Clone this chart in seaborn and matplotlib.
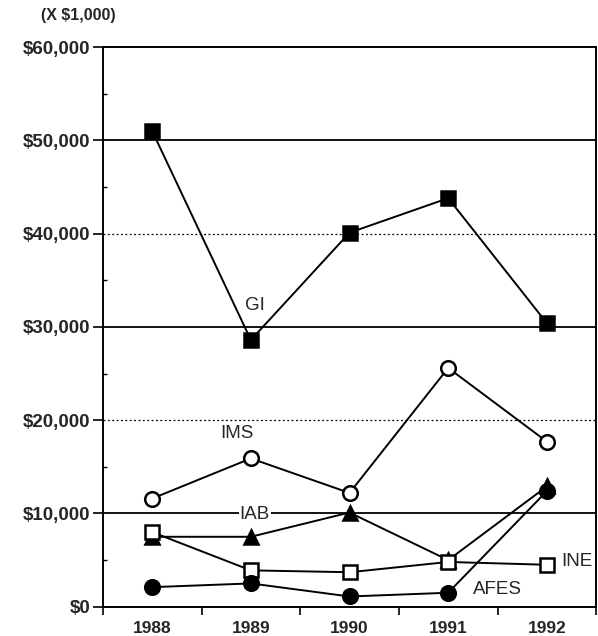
import matplotlib
matplotlib.use("Agg")
import matplotlib.pyplot as plt
import seaborn as sns
import numpy as np
import pandas as pd
from matplotlib.ticker import FixedLocator, FuncFormatter

years = ["1988", "1989", "1990", "1991", "1992"]
gi = [51000, 28600, 40100, 43800, 30400]
ims = [11600, 15900, 12200, 25600, 17700]
iab = [7500, 7500, 10100, 5000, 12900]
ine = [8000, 3900, 3700, 4800, 4500]
afes = [2100, 2500, 1100, 1500, 12400]

series_names = ["GI", "IMS", "IAB", "INE", "AFES"]
series_vals = [gi, ims, iab, ine, afes]
y_ticks = [0, 10000, 20000, 30000, 40000, 50000, 60000]

sns.set_theme(style="white")
plt.rcParams["font.family"] = ["Liberation Sans", "DejaVu Sans"]

fig = plt.figure(figsize=(5.98, 6.36), dpi=100)
ax = fig.add_axes([0.172, 0.046, 0.825, 0.880])

x = np.arange(len(years))

# gridlines
for v in y_ticks[1:-1]:
    if (v // 10000) % 2 == 1:
        ax.axhline(v, color="black", lw=1.3, zorder=1)
    else:
        ax.axhline(v, color="black", lw=0.9, ls=(0, (1.5, 2)), zorder=1)

styles = {
    "GI": dict(marker="s", mfc="black", ms=9.5),
    "IMS": dict(marker="o", mfc="white", ms=10.5),
    "IAB": dict(marker="^", mfc="black", ms=10),
    "INE": dict(marker="s", mfc="white", ms=10),
    "AFES": dict(marker="o", mfc="black", ms=10.5),
}

for name, vals in zip(series_names, series_vals):
    st = styles[name]
    df = pd.DataFrame({"x": x, "y": vals})
    sns.lineplot(data=df, x="x", y="y", ax=ax, color="black", lw=1.4,
                 marker=st["marker"], markersize=st["ms"],
                 markerfacecolor=st["mfc"], markeredgecolor="black",
                 markeredgewidth=1.8, zorder=3)

ax.set_xlim(-0.5, 4.5)
ax.set_ylim(0, 60000)
ax.set_xlabel("")
ax.set_ylabel("")

ax.set_xticks(x)
ax.set_xticklabels(years)
ax.xaxis.set_minor_locator(FixedLocator(np.arange(-0.5, 4.6, 1.0)))
ax.tick_params(axis="x", which="major", length=0, pad=10, labelsize=12.5)
ax.tick_params(axis="x", which="minor", length=6, width=1.2, direction="out",
               bottom=True, color="black")

ax.set_yticks(y_ticks)
ax.yaxis.set_major_formatter(FuncFormatter(lambda v, p: "${:,.0f}".format(v)))
ax.yaxis.set_minor_locator(FixedLocator(np.arange(5000, 60000, 10000)))
ax.tick_params(axis="y", which="major", length=7, width=1.2, direction="out",
               left=True, labelsize=13.5, pad=2, color="black")
ax.tick_params(axis="y", which="minor", length=3, width=1.0, direction="in",
               left=True, color="black")
for lab in ax.get_yticklabels() + ax.get_xticklabels():
    lab.set_fontweight("bold")

for s in ax.spines.values():
    s.set_color("black")
    s.set_linewidth(1.4)

# series labels
lab_kw = dict(fontsize=13.5, va="center", zorder=4)
ax.text(1.04, 32300, "GI", ha="center", **lab_kw)
ax.text(0.86, 18600, "IMS", ha="center", **lab_kw)
ax.text(1.04, 9900, "IAB", ha="center",
        bbox=dict(facecolor="white", edgecolor="none", pad=0.5), **lab_kw)
ax.text(4.15, 4900, "INE", ha="left", **lab_kw)
ax.text(3.25, 1900, "AFES", ha="left", **lab_kw)

fig.text(0.068, 0.975, "(X $1,000)", fontsize=11.5, fontweight="bold",
         ha="left", va="center")

fig.savefig("out.png", dpi=100, facecolor="white")
